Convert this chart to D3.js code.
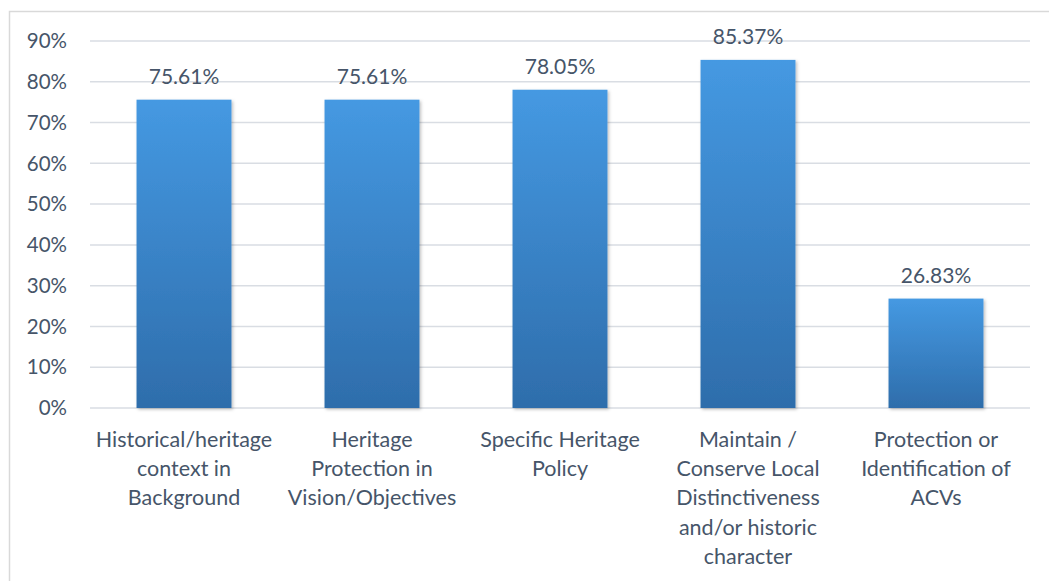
<!DOCTYPE html>
<html>
<head>
<style>
  body {
    background-color: white;
    margin: 0px;
  }
  text {
    font-family: Lato, "Open Sans", sans-serif;
    fill: #465569;
  }
</style>
<script src="https://cdn.jsdelivr.net/npm/d3@7"></script>
</head>
<body>
<svg></svg>
<script>
const categories = [
  ["Historical/heritage", "context in", "Background"],
  ["Heritage", "Protection in", "Vision/Objectives"],
  ["Specific Heritage", "Policy"],
  ["Maintain /", "Conserve Local", "Distinctiveness", "and/or historic", "character"],
  ["Protection or", "Identification of", "ACVs"]
];
const values = [75.61, 75.61, 78.05, 85.37, 26.83];
const yTicks = [0, 10, 20, 30, 40, 50, 60, 70, 80, 90];

const width = 1049, height = 581;
const svg = d3.select("svg").attr("width", width).attr("height", height);

const defs = svg.append("defs");
const grad = defs.append("linearGradient")
    .attr("id", "barGrad")
    .attr("x1", 0).attr("y1", 0).attr("x2", 0).attr("y2", 1);
grad.append("stop").attr("offset", "0%").attr("stop-color", "#4599e2");
grad.append("stop").attr("offset", "100%").attr("stop-color", "#2e6dab");

const shadow = defs.append("filter").attr("id", "shadow")
    .attr("x", "-10%").attr("y", "-10%").attr("width", "130%").attr("height", "130%");
shadow.append("feDropShadow")
    .attr("dx", 1.5).attr("dy", 1.5).attr("stdDeviation", 1.5)
    .attr("flood-color", "#000").attr("flood-opacity", 0.25);

// outer frame
svg.append("rect")
    .attr("x", 9.5).attr("y", 11.5)
    .attr("width", width + 20).attr("height", height + 20)
    .attr("fill", "none")
    .attr("stroke", "#d9d9d9")
    .attr("stroke-width", 1.5);

const x = d3.scaleBand()
    .domain(d3.range(categories.length))
    .range([90, 1030])
    .paddingInner(0.495)
    .paddingOuter(0.2475);

const y = d3.scaleLinear().domain([0, 90]).range([408, 41]);

// gridlines
svg.append("g").selectAll("line")
  .data(yTicks)
  .join("line")
    .attr("x1", 90).attr("x2", 1030)
    .attr("y1", d => y(d)).attr("y2", d => y(d))
    .attr("stroke", "#d9dde3")
    .attr("stroke-width", 1.5);

// y labels
svg.append("g").selectAll("text")
  .data(yTicks)
  .join("text")
    .attr("x", 67)
    .attr("y", d => y(d))
    .attr("dy", "0.35em")
    .attr("text-anchor", "end")
    .attr("font-size", 20.5)
    .text(d => d + "%");

// bars
svg.append("g").selectAll("rect")
  .data(values)
  .join("rect")
    .attr("x", (d, i) => x(i))
    .attr("y", d => y(d))
    .attr("width", x.bandwidth())
    .attr("height", d => y(0) - y(d))
    .attr("fill", "url(#barGrad)")
    .attr("filter", "url(#shadow)");

// value labels
svg.append("g").selectAll("text")
  .data(values)
  .join("text")
    .attr("x", (d, i) => x(i) + x.bandwidth() / 2)
    .attr("y", d => y(d) - 16)
    .attr("text-anchor", "middle")
    .attr("font-size", 21)
    .text(d => d.toFixed(2) + "%");

// category labels
const catG = svg.append("g").selectAll("text")
  .data(categories)
  .join("text")
    .attr("x", (d, i) => x(i) + x.bandwidth() / 2)
    .attr("y", 447)
    .attr("text-anchor", "middle")
    .attr("font-size", 21.5);

catG.selectAll("tspan")
  .data(d => d)
  .join("tspan")
    .attr("x", function() { return this.parentNode.getAttribute("x"); })
    .attr("dy", (d, i) => i === 0 ? 0 : 29.2)
    .text(d => d);
</script>
</body>
</html>
